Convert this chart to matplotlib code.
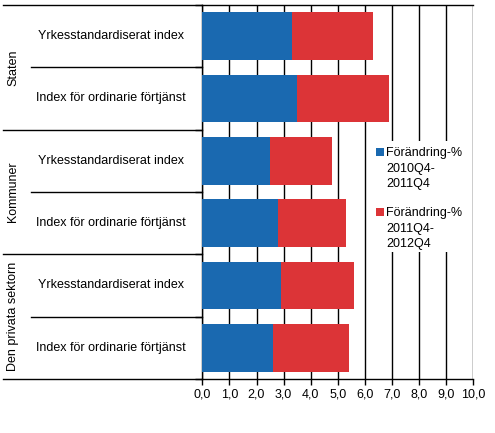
import matplotlib.pyplot as plt
import matplotlib.transforms as mtrans
from matplotlib.patches import Rectangle

plt.rcParams["font.family"] = ["Liberation Sans", "DejaVu Sans"]
plt.rcParams["font.size"] = 9

groups = ["Staten", "Kommuner", "Den privata sektorn"]
categories = ["Yrkesstandardiserat index", "Index för ordinarie förtjänst"] * 3
change_2011 = [3.3, 3.5, 2.5, 2.8, 2.9, 2.6]
change_2012 = [3.0, 3.4, 2.3, 2.5, 2.7, 2.8]
series_labels = ["Förändring-%\n2010Q4-\n2011Q4", "Förändring-%\n2011Q4-\n2012Q4"]
xticks = [0, 1, 2, 3, 4, 5, 6, 7, 8, 9, 10]

blue = "#1a69b0"
red = "#dc3437"

W, H = 495, 433
fig = plt.figure(figsize=(W / 100, H / 100), dpi=100)
x0, x1, y0, y1 = 202.3, 473.3, 5, 379
ax = fig.add_axes([x0 / W, 1 - y1 / H, (x1 - x0) / W, (y1 - y0) / H])

pos = list(range(len(categories)))
ax.barh(pos, change_2011, height=0.77, color=blue, zorder=3)
ax.barh(pos, change_2012, left=change_2011, height=0.77, color=red, zorder=3)

ax.set_xlim(0, 10)
ax.set_ylim(len(categories) - 0.5, -0.5)
ax.set_xticks(xticks)
ax.set_xticklabels([f"{v:.1f}".replace(".", ",") for v in xticks])
ax.set_yticks([i - 0.5 for i in range(len(categories) + 1)])
ax.set_yticklabels([])
ax.tick_params(axis="both", direction="out", width=1, color="black")
ax.tick_params(axis="x", length=4, pad=3)
ax.tick_params(axis="y", length=5)
ax.grid(axis="x", color="black", linewidth=1, zorder=0)
ax.set_axisbelow(True)
for s in ["left", "bottom", "top"]:
    ax.spines[s].set_linewidth(1)
ax.spines["right"].set_visible(False)


def fx(px):
    # figure pixel x -> axes fraction
    return (px - x0) / (x1 - x0)


def fy(py):
    return 1 - (py - y0) / (y1 - y0)


tr = mtrans.blended_transform_factory(ax.transAxes, ax.transData)

# horizontal separators in the label area
for b in [-0.5, 1.5, 3.5, 5.5]:
    ax.plot([fx(3), 0], [b, b], transform=tr, color="black", lw=1, clip_on=False)
for b in [0.5, 2.5, 4.5]:
    ax.plot([fx(31), 0], [b, b], transform=tr, color="black", lw=1, clip_on=False)

for i, cat in enumerate(categories):
    ax.text(fx(111), i, cat, transform=tr, ha="center", va="center")

for g, name in enumerate(groups):
    ax.text(fx(13), 2 * g + 0.5, name, transform=tr, ha="center", va="center",
            rotation=90)

# legend: white box hiding the grid, squares aligned with first text line
ax.add_patch(Rectangle((fx(369), fy(252)), fx(471) - fx(369), fy(141) - fy(252),
                       transform=ax.transAxes, facecolor="white", edgecolor="none",
                       zorder=4))
for lab, col, sq, top in zip(series_labels, [blue, red], [148, 208], [147, 207]):
    ax.add_patch(Rectangle((fx(376), fy(sq + 8)), fx(384) - fx(376), fy(sq) - fy(sq + 8),
                           transform=ax.transAxes, facecolor=col, edgecolor="none",
                           zorder=5))
    ax.text(fx(386), fy(top), lab, transform=ax.transAxes, ha="left", va="top",
            linespacing=1.4, zorder=5)

fig.savefig("out.png", dpi=100)
